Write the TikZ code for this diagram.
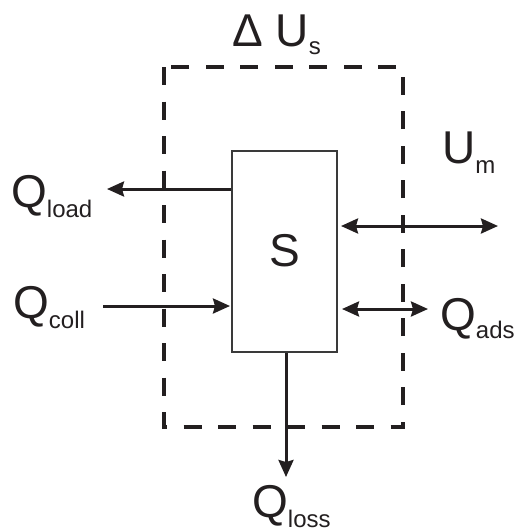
\documentclass[tikz,border=0pt]{standalone}
\usepackage{fontspec}
\setmainfont{Liberation Sans}
\usetikzlibrary{arrows.meta}
\definecolor{ink}{HTML}{231F20}
\definecolor{boxline}{HTML}{3A3A3A}
\newcommand\lowsub[2]{\raisebox{-#1}{\fontsize{24}{24}\selectfont #2}}
\begin{document}
\begin{tikzpicture}[x=1pt,y=-1pt,
  flow/.style={draw=ink,line width=3pt,-{Stealth[length=17pt,width=15pt,inset=2pt]}},
  biflow/.style={draw=ink,line width=3pt,{Stealth[length=17pt,width=15pt,inset=2pt]}-{Stealth[length=17pt,width=15pt,inset=2pt]}},
  lbl/.style={inner sep=0pt,anchor=base west,font=\fontsize{46}{46}\selectfont,text=ink},
  sysbox/.style={draw=boxline,line width=2pt,fill=white,minimum width=105pt,minimum height=201pt,inner sep=0pt,font=\fontsize{46}{46}\selectfont,text=ink},
  boundary/.style={draw=ink,line width=4pt,dash pattern=on 18pt off 16.5pt}]
\useasboundingbox (0,0) rectangle (518,528);
% control volume boundary
\draw[boundary] (164,67) rectangle (403,427);
% system
\node[sysbox] (S) at (284.5,251.5) {\raisebox{3pt}{S}};
% labels
\node[lbl] (dU) at (232,46) {Δ U\lowsub{8pt}{s}};
\node[lbl] (Qload) at (11,207) {Q\lowsub{10pt}{load}};
\node[lbl] (Qcoll) at (13,318) {Q\lowsub{10pt}{coll}};
\node[lbl] (Um) at (442,163) {U\lowsub{10pt}{m}};
\node[lbl] (Qads) at (440,330) {Q\lowsub{8pt}{ads}};
\node[lbl] (Qloss) at (252,517) {Q\lowsub{10pt}{loss}};
% end points
\coordinate (loadEnd) at (107,189);
\coordinate (collStart) at (103,306);
\coordinate (collEnd) at (230,306);
\coordinate (umEnd) at (498,226);
\coordinate (adsEnd) at (428,309);
\coordinate (lossEnd) at (286,477);
% flows
\draw[flow] (S.west |- loadEnd) -- (loadEnd);
\draw[flow] (collStart) -- (collEnd);
\draw[biflow] (341,226) -- (umEnd);
\draw[biflow] (342,309) -- (adsEnd);
\draw[flow] (S.south -| lossEnd) -- (lossEnd);
\end{tikzpicture}
\end{document}
